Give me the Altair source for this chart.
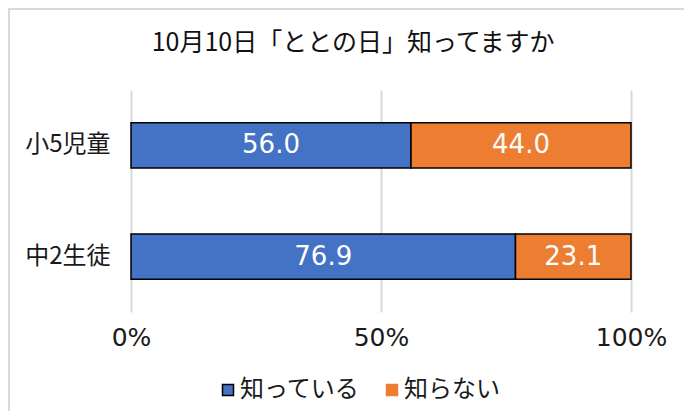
import altair as alt
import pandas as pd

categories = ["小5児童", "中2生徒"]
series = ["知っている", "知らない"]
knows = [56.0, 76.9]
not_knows = [44.0, 23.1]
tick_values = [0, 50, 100]
colors = ["#4472C4", "#ED7D31"]
legend_strokes = ["#000000", "#ED7D31"]
title_text = "10月10日「ととの日」知ってますか"

rows = []
for i, c in enumerate(categories):
    rows.append({"category": c, "series": series[0], "value": knows[i], "order": 0})
    rows.append({"category": c, "series": series[1], "value": not_knows[i], "order": 1})
df = pd.DataFrame(rows)

FONT = "Noto Sans CJK JP"
NUMFONT = "DejaVu Sans"

y_enc = alt.Y(
    "category:N",
    sort=categories,
    title=None,
    scale=alt.Scale(paddingInner=0.593, paddingOuter=0.296),
    axis=alt.Axis(ticks=False, domain=False, labelPadding=21, labelFontSize=24,
                  labelFont=FONT, labelColor="#1a1a1a", grid=False),
)

base = alt.Chart(df).transform_stack(
    stack="value", groupby=["category"], as_=["v0", "v1"],
    sort=[alt.SortField("order", order="ascending")],
).transform_calculate(mid="(datum.v0 + datum.v1) / 2")

x_scale = alt.Scale(domain=[0, 100], nice=False, zero=True)
color_scale = alt.Scale(domain=series, range=colors)

bars = base.mark_bar(stroke="black", strokeWidth=1.5).encode(
    y=y_enc,
    x=alt.X("v0:Q", title=None, scale=x_scale,
            axis=alt.Axis(values=tick_values, labelExpr="datum.value + '%'",
                          ticks=False, domain=False, grid=True, gridColor="#d9d9d9",
                          gridWidth=2, labelPadding=13, labelFontSize=25,
                          labelFlush=False,
                          labelFont=NUMFONT, labelColor="#1a1a1a")),
    x2="v1:Q",
    color=alt.Color("series:N", sort=series, scale=color_scale, legend=None),
    order=alt.Order("order:Q"),
)

legend_layer = base.mark_square(size=4, opacity=1).encode(
    y=alt.Y("category:N", sort=categories),
    x=alt.X("mid:Q"),
    color=alt.Color("series:N", sort=series, scale=color_scale,
                    legend=alt.Legend(
                        title=None, orient="none", direction="horizontal",
                        legendX=85, legendY=288, symbolType="square",
                        symbolSize=121, symbolStrokeWidth=1.5, symbolOpacity=1,
                        labelFontSize=24, labelFont=FONT, labelColor="#1a1a1a",
                        labelOffset=0, columnPadding=20, padding=0)),
    stroke=alt.Stroke("series:N", sort=series,
                      scale=alt.Scale(domain=series, range=legend_strokes)),
)

labels = base.mark_text(color="white", fontSize=26, font=NUMFONT, baseline="middle").encode(
    y=alt.Y("category:N", sort=categories),
    x=alt.X("mid:Q"),
    text=alt.Text("value:Q", format=".1f"),
)

title_df = pd.DataFrame({"t": [title_text]})
title_mark = alt.Chart(title_df).mark_text(
    fontSize=25, font=FONT, color="#111111", align="center", baseline="middle"
).encode(x=alt.value(222), y=alt.value(-47), text="t:N")

border_df = pd.DataFrame({"a": [0]})
left_border = alt.Chart(border_df).mark_rule(color="#d9d9d9", strokeWidth=2).encode(
    x=alt.value(-122), y=alt.value(-82), y2=alt.value(330))
top_border = alt.Chart(border_df).mark_rule(color="#d9d9d9", strokeWidth=2).encode(
    x=alt.value(-123), x2=alt.value(560), y=alt.value(-81))

chart = alt.layer(legend_layer, bars, labels, title_mark, left_border, top_border).properties(
    width=500,
    height=222,
    padding={"left": 123, "top": 82, "right": 53, "bottom": 99},
    autosize=alt.AutoSizeParams(type="none"),
).configure_view(stroke=None)

chart.save("out.html", embed_options={"renderer": "svg", "actions": False})
